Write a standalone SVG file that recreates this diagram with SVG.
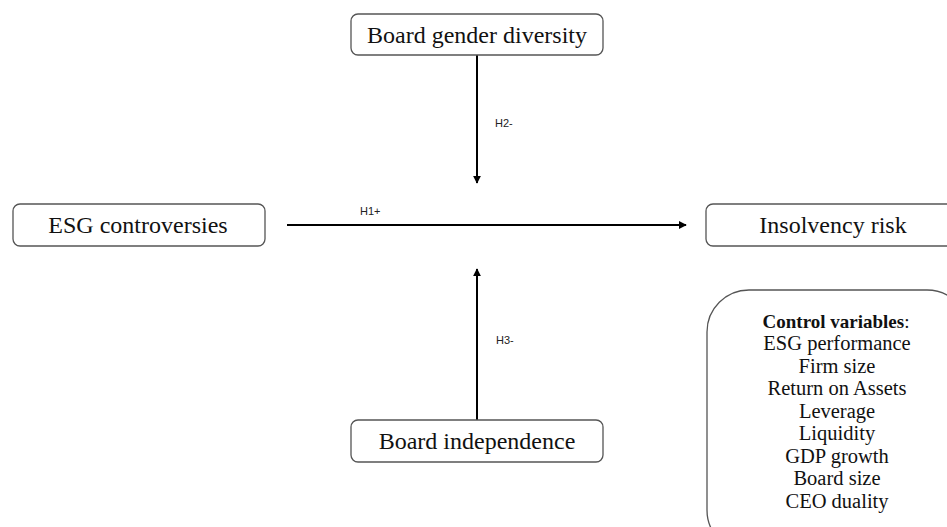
<svg xmlns="http://www.w3.org/2000/svg" width="947" height="527" viewBox="0 0 947 527">
<style>
.box{fill:#fff;stroke:#555;stroke-width:1.3}
.t{font-family:"Liberation Serif",serif;font-size:24px;fill:#111;text-anchor:middle}
.c{font-family:"Liberation Serif",serif;font-size:20.5px;fill:#111;text-anchor:middle}
.h{font-family:"Liberation Serif",serif;font-size:19px;fill:#111;text-anchor:middle}
.lbl{font-family:"Liberation Sans",sans-serif;font-size:11px;fill:#222}
.edge{stroke:#000;stroke-width:2;fill:none}
</style>
<defs>
<marker id="ah" viewBox="0 0 10 10" refX="9" refY="5" markerWidth="4" markerHeight="4" orient="auto" markerUnits="strokeWidth">
<path d="M0,0 L10,5 L0,10 z" fill="#000"/>
</marker>
</defs>
<rect width="947" height="527" fill="#fff"/>
<g id="connectors">
<line class="edge" x1="477" y1="55" x2="477" y2="183" marker-end="url(#ah)"/>
<line class="edge" x1="287" y1="225" x2="686" y2="225" marker-end="url(#ah)"/>
<line class="edge" x1="477" y1="420" x2="477" y2="269" marker-end="url(#ah)"/>
<text class="lbl" x="495" y="127">H2-</text>
<text class="lbl" x="360" y="215">H1+</text>
<text class="lbl" x="496" y="344">H3-</text>
</g>
<g id="board-gender">
<rect class="box" x="351" y="14" width="252" height="41" rx="7"/>
<text class="t" x="477" y="43">Board gender diversity</text>
</g>
<g id="esg-controversies">
<rect class="box" x="13" y="204" width="252" height="42" rx="7"/>
<text class="t" x="138" y="233">ESG controversies</text>
</g>
<g id="insolvency-risk">
<rect class="box" x="706" y="204" width="254" height="42" rx="7"/>
<text class="t" x="833" y="233">Insolvency risk</text>
</g>
<g id="board-independence">
<rect class="box" x="351" y="420" width="252" height="42" rx="7"/>
<text class="t" x="477" y="449">Board independence</text>
</g>
<g id="control-variables">
<rect class="box" x="707" y="290" width="262" height="262" rx="42"/>
<text class="h" x="836" y="328"><tspan font-weight="bold">Control variables</tspan>:</text>
<text class="c" x="837" y="350">ESG performance</text>
<text class="c" x="837" y="372.5">Firm size</text>
<text class="c" x="837" y="395">Return on Assets</text>
<text class="c" x="837" y="417.5">Leverage</text>
<text class="c" x="837" y="440">Liquidity</text>
<text class="c" x="837" y="462.5">GDP growth</text>
<text class="c" x="837" y="485">Board size</text>
<text class="c" x="837" y="507.5">CEO duality</text>
</g>
</svg>
